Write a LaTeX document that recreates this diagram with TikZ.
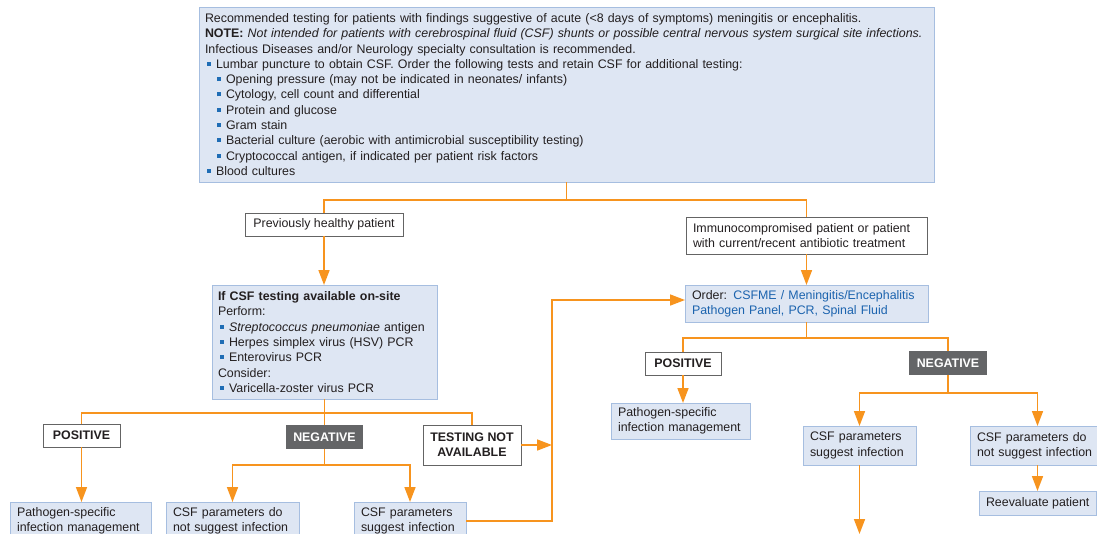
\documentclass[tikz,border=0pt]{standalone}
\usepackage{fontspec}
\setmainfont{Liberation Sans}
\usetikzlibrary{arrows.meta,calc}
\definecolor{orng}{RGB}{247,148,30}
\definecolor{bfill}{RGB}{222,230,243}
\definecolor{bedge}{RGB}{166,190,224}
\definecolor{bulblue}{RGB}{31,109,181}
\definecolor{lblue}{RGB}{27,99,174}
\definecolor{dgray}{RGB}{100,101,103}
\definecolor{wedge}{RGB}{100,100,100}
\definecolor{txt}{RGB}{35,31,32}
\newcommand{\fs}{\fontsize{12.4}{15.3}\selectfont}
\newcommand{\bul}{\makebox[11pt][l]{\hspace{1.5pt}\textcolor{bulblue}{\rule[2.6pt]{4pt}{4pt}}}}
\newcommand{\subbul}{\hspace*{10pt}\bul}
\begin{document}
\begin{tikzpicture}[x=1pt,y=-1pt,
  box/.style={anchor=north west, inner xsep=7pt, inner ysep=2pt, font=\fs, text=txt, align=left, outer sep=0pt},
  bluebox/.style={box, fill=bfill, draw=bedge, line width=0.9pt},
  wbox/.style={box, fill=white, draw=wedge, line width=1pt, align=center},
  dbox/.style={box, fill=dgray, text=white, align=center, font=\fs\bfseries},
  conn/.style={draw=orng, line width=1.6pt},
  arr/.style={conn, -{Triangle[width=11pt,length=15pt]}}]
\clip (0,0) rectangle (1097,533);
\fill[white] (0,0) rectangle (1097,533);
% top box
\node[bluebox, inner xsep=6pt, text width=723pt, minimum height=175pt] (top) at (199,7) {Recommended testing for patients with findings suggestive of acute (<8 days of symptoms) meningitis or encephalitis.\\
\textbf{NOTE:} \textit{Not intended for patients with cerebrospinal fluid (CSF) shunts or possible central nervous system surgical site infections.}\\
Infectious Diseases and/or Neurology specialty consultation is recommended.\\
\bul Lumbar puncture to obtain CSF. Order the following tests and retain CSF for additional testing:\\
\subbul Opening pressure (may not be indicated in neonates/ infants)\\
\subbul Cytology, cell count and differential\\
\subbul Protein and glucose\\
\subbul Gram stain\\
\subbul Bacterial culture (aerobic with antimicrobial susceptibility testing)\\
\subbul Cryptococcal antigen, if indicated per patient risk factors\\
\bul Blood cultures};
% second level
\node[wbox, minimum width=158pt, minimum height=23pt] (prev) at (245,213) {Previously healthy patient};
\node[wbox, text width=227pt, minimum height=37pt, align=left] (immuno) at (686,217) {Immunocompromised patient or patient\\with current/recent antibiotic treatment};
% left branch
\node[bluebox, text width=213pt, inner xsep=6pt, minimum height=114pt] (ifcsf) at (212,285) {\textbf{If CSF testing available on-site}\\
Perform:\\
\bul\textit{Streptococcus pneumoniae} antigen\\
\bul Herpes simplex virus (HSV) PCR\\
\bul Enterovirus PCR\\
Consider:\\
\bul Varicella-zoster virus PCR};
\node[wbox, font=\fs\bfseries, minimum width=77pt, minimum height=23pt] (posL) at (43,424) {POSITIVE};
\node[dbox, minimum width=77pt, minimum height=24pt] (negL) at (286,425) {NEGATIVE};
\node[wbox, font=\fs\bfseries, minimum width=98pt, minimum height=40pt] (tna) at (423,425) {TESTING NOT\\AVAILABLE};
\node[bluebox, text width=127pt, minimum height=38pt] (pathL) at (10,502) {Pathogen-specific\\infection management};
\node[bluebox, text width=119pt, minimum height=38pt] (csfnL) at (166,502) {CSF parameters do\\not suggest infection};
\node[bluebox, text width=98pt, minimum height=38pt] (csfsL) at (354,502) {CSF parameters\\suggest infection};
% right branch
\node[bluebox, text width=229pt, minimum height=37pt] (order) at (685,285) {Order: \textcolor{lblue}{CSFME / Meningitis/Encephalitis}\\\textcolor{lblue}{Pathogen Panel, PCR, Spinal Fluid}};
\node[wbox, font=\fs\bfseries, minimum width=76pt, minimum height=23pt] (posR) at (645,352) {POSITIVE};
\node[dbox, minimum width=78pt, minimum height=24pt] (negR) at (909,351) {NEGATIVE};
\node[bluebox, text width=125pt, minimum height=36pt] (pathR) at (611,403) {Pathogen-specific\\infection management};
\node[bluebox, text width=99pt, minimum height=39pt] (csfsR) at (803,426) {CSF parameters\\suggest infection};
\node[bluebox, text width=121pt, minimum height=39pt] (csfnR) at (970,426) {CSF parameters do\\not suggest infection};
\node[bluebox, minimum width=115pt, minimum height=24pt, align=center] (reeval) at (979,491) {Reevaluate patient};
\coordinate (jx) at (552,300);
\coordinate (endc) at (859.5,534);
% connectors
\coordinate (t1) at ($(top.south)+(0,18)$);
\draw[conn] (top.south) -- (t1);
\draw[conn] (prev.north) |- (t1) -| (immuno.north);
\draw[arr] (prev.south) -- (prev.south |- ifcsf.north);
\draw[arr] (immuno.south) -- (immuno.south |- order.north);
\coordinate (l1) at ($(ifcsf.south)+(0,14)$);
\draw[conn] (ifcsf.south) -- (negL.north);
\draw[conn] (posL.north) |- (l1) -| (tna.north);
\draw[arr] (posL.south) -- (posL.south |- pathL.north);
\coordinate (l2) at ($(negL.south)+(0,16)$);
\draw[conn] (negL.south) -- (l2);
\draw[arr] (l2) -| (csfnL.north);
\draw[arr] (l2) -| (csfsL.north);
\draw[arr] (tna.east) -- (tna.east -| jx);
\draw[arr] (csfsL.east) -| (jx) -- (order.west |- jx);
\coordinate (r1) at ($(order.south)+(0,16)$);
\draw[conn] (order.south) -- (r1);
\draw[conn] (posR.north) |- (r1) -| (negR.north);
\draw[arr] (posR.south) -- (posR.south |- pathR.north);
\coordinate (r2) at ($(negR.south)+(0,18)$);
\draw[conn] (negR.south) -- (r2);
\draw[arr] (r2) -| (csfsR.north);
\draw[arr] (r2) -| (csfnR.north);
\draw[arr] (csfnR.south) -- (csfnR.south |- reeval.north);
\draw[arr] (csfsR.south) -- (endc);
\end{tikzpicture}
\end{document}
